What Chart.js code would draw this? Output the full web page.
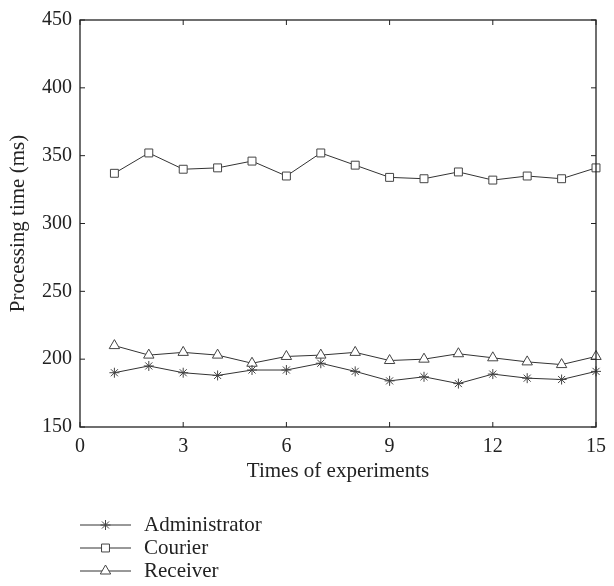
<!DOCTYPE html>
<html>
<head>
<meta charset="utf-8">
<script src="https://cdn.jsdelivr.net/npm/chart.js@4.4.1/dist/chart.umd.min.js"></script>
<style>
html,body{margin:0;background:#fff}
#wrap{width:614px;height:586px;position:relative}
</style>
</head>
<body>
<div id="wrap"><canvas id="chartTimes"></canvas></div>
<script>
const experiments=[1,2,3,4,5,6,7,8,9,10,11,12,13,14,15];
const administrator=[190,195,190,188,192,192,197,191,184,187,182,189,186,185,191];
const courier=[337,352,340,341,346,335,352,343,334,333,338,332,335,333,341];
const receiver=[210,203,205,203,197,202,203,205,199,200,204,201,198,196,202];
const xTicks=[0,3,6,9,12,15];
const yTicks=[150,200,250,300,350,400,450];

const INK="#222";
const FONT="'Liberation Serif', 'Times New Roman', serif";
const TICK_LEN=5;

Chart.defaults.font.family=FONT;
Chart.defaults.font.size=20;
Chart.defaults.color=INK;

function pairs(vals){
return experiments.map((x,i)=>({x:x,y:vals[i]}));
}

// box round the plot with inward ticks on all four sides
const framePlugin={
id:"frame",
afterDatasetsDraw(chart){
const {ctx,chartArea:a,scales:{x,y}}=chart;
ctx.save();
ctx.strokeStyle=INK;
ctx.lineWidth=1.3;
ctx.strokeRect(a.left,a.top,a.right-a.left,a.bottom-a.top);
ctx.lineWidth=1;
ctx.beginPath();
xTicks.forEach(v=>{
const px=x.getPixelForValue(v);
ctx.moveTo(px,a.bottom);ctx.lineTo(px,a.bottom-TICK_LEN);
ctx.moveTo(px,a.top);ctx.lineTo(px,a.top+TICK_LEN);
});
yTicks.forEach(v=>{
const py=y.getPixelForValue(v);
ctx.moveTo(a.left,py);ctx.lineTo(a.left+TICK_LEN,py);
ctx.moveTo(a.right,py);ctx.lineTo(a.right-TICK_LEN,py);
});
ctx.stroke();
ctx.restore();
}
};

// legend below the axis: short line with the marker in the middle
const lineLegend={
id:"lineLegend",
afterDraw(chart){
const {ctx,chartArea:a}=chart;
ctx.save();
ctx.font="21px "+FONT;
ctx.textBaseline="middle";
chart.data.datasets.forEach((ds,i)=>{
const yy=a.bottom+98+i*23;
const x0=a.left,x1=a.left+51;
ctx.strokeStyle=ds.borderColor;
ctx.lineWidth=1;
ctx.beginPath();ctx.moveTo(x0,yy);ctx.lineTo(x1,yy);ctx.stroke();
ctx.strokeStyle=ds.pointBorderColor;
ctx.fillStyle=ds.pointBackgroundColor;
ctx.lineWidth=1;
Chart.helpers.drawPoint(ctx,{pointStyle:ds.pointStyle,radius:ds.pointRadius,rotation:0,borderWidth:1},(x0+x1)/2,yy);
ctx.fillStyle=INK;
ctx.fillText(ds.label,a.left+64,yy);
});
ctx.restore();
}
};

function series(label,vals,style,radius){
return {
label:label,
data:pairs(vals),
borderColor:"#333",
borderWidth:1,
pointStyle:style,
pointRadius:radius,
pointBorderColor:"#444",
pointBackgroundColor:"#fff",
pointBorderWidth:1,
tension:0,
clip:false
};
}

new Chart(document.getElementById("chartTimes"),{
type:"line",
data:{
datasets:[
series("Administrator",administrator,"star",5),
series("Courier",courier,"rect",5.6),
series("Receiver",receiver,"triangle",6)
]
},
options:{
responsive:true,
maintainAspectRatio:false,
animation:false,
events:[],
layout:{padding:{top:14,right:10,left:0,bottom:100}},
plugins:{legend:{display:false},tooltip:{enabled:false}},
scales:{
x:{
type:"linear",
min:0,max:15,
afterBuildTicks:s=>{s.ticks=xTicks.map(v=>({value:v}));},
afterFit:s=>{s.height=59;},
grid:{display:false,drawTicks:false},
border:{display:false},
ticks:{padding:8,maxRotation:0,autoSkip:false},
title:{display:true,text:"Times of experiments",font:{size:21},padding:{top:0,bottom:2}}
},
y:{
min:150,max:450,
afterBuildTicks:s=>{s.ticks=yTicks.map(v=>({value:v}));},
afterFit:s=>{s.width=80;},
grid:{display:false,drawTicks:false},
border:{display:false},
ticks:{padding:8},
title:{display:true,text:"Processing time (ms)",font:{size:21},padding:{top:6,bottom:0}}
}
}
},
plugins:[framePlugin,lineLegend]
});
</script>
</body>
</html>
